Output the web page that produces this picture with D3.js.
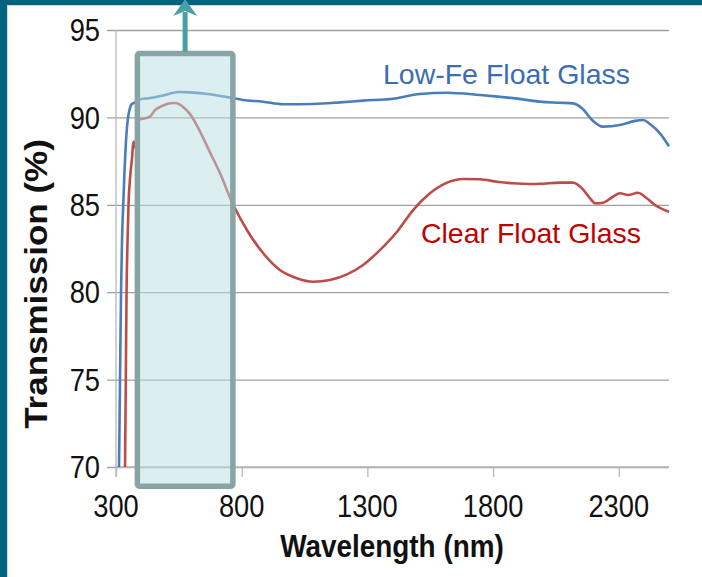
<!DOCTYPE html>
<html>
<head>
<meta charset="utf-8">
<script src="https://cdn.jsdelivr.net/npm/d3@7"></script>
<style>
  html, body { margin: 0; padding: 0; background: #fff; }
  svg { display: block; }
  text { font-family: "Liberation Sans", Arial, sans-serif; }
</style>
</head>
<body>
<svg id="chart" width="702" height="577"></svg>
<script>
// ---- data ----
const lowFeWavelength = [312,316,320,324,329,334,340,348,355,362,384,395,430,463,500,547,594,674,754,805,885,964,1084,1191,1283,1402,1509,1617,1748,1919,1987,2066,2118,2154,2194,2237,2305,2365,2397,2424,2464,2500];
const lowFeTransmission = [70,75,80,83,85.1,87,88.7,90.0,90.5,90.75,90.9,91.03,91.1,91.18,91.3,91.45,91.43,91.32,91.13,91.0,90.9,90.75,90.77,90.86,90.96,91.07,91.34,91.41,91.28,91.03,90.9,90.84,90.8,90.52,89.85,89.47,89.56,89.8,89.85,89.62,89.09,88.35];

const clearWavelength = [336,339,342,346,350,357,364,369,374,381,390,395,415,435,455,483,515,535,567,594,634,674,714,760,821,885,952,1019,1084,1151,1219,1283,1350,1418,1482,1549,1617,1680,1748,1816,1879,1947,1987,2066,2118,2154,2186,2206,2237,2277,2305,2337,2377,2404,2444,2500];
const clearTransmission = [70,75,80,83,85.1,86.7,87.7,88.6,88.3,88.8,89.8,89.89,89.95,90.04,90.42,90.65,90.81,90.82,90.6,90.2,89.2,88.0,86.8,85.2,83.56,82.24,81.27,80.8,80.6,80.7,81.02,81.56,82.41,83.46,84.7,85.66,86.27,86.48,86.46,86.32,86.23,86.19,86.2,86.27,86.27,85.94,85.37,85.09,85.12,85.46,85.66,85.56,85.69,85.46,84.99,84.6];

const seriesNames = ["Low-Fe Float Glass", "Clear Float Glass"];
const xTicks = [300, 800, 1300, 1800, 2300];
const yTicks = [70, 75, 80, 85, 90, 95];
const visibleBand = [385, 765];      // highlighted wavelength range (nm)
const bandTransmission = [68.9, 93.65];

// ---- layout ----
const svg = d3.select("#chart");
const W = 702, H = 577;
const x = d3.scaleLinear().domain([300, 2500]).range([116, 669]);
const y = d3.scaleLinear().domain([70, 95]).range([467, 30]);
const SX = 0.88; // horizontal squeeze of the original lettering

svg.append("rect").attr("width", W).attr("height", H).attr("fill", "#fff");

// gridlines (as y axis ticks extended)
const yAxis = d3.axisLeft(y).tickValues(yTicks).tickSize(-(669 - 107)).tickSizeOuter(0).tickPadding(0).tickFormat("");
svg.append("g").attr("transform", "translate(107,0)").call(yAxis)
  .call(g => g.select(".domain").remove())
  .call(g => g.selectAll(".tick line").attr("stroke", "#a0a0a0").attr("stroke-width", 1.3));

// y axis line
svg.append("line").attr("x1", x(300)).attr("x2", x(300)).attr("y1", y(95)).attr("y2", y(70) + 10)
  .attr("stroke", "#b8b8b8").attr("stroke-width", 1.3);

// x axis
const xAxis = d3.axisBottom(x).tickValues(xTicks).tickSize(10).tickSizeOuter(0).tickFormat("");
svg.append("g").attr("transform", `translate(0,${y(70)})`).call(xAxis)
  .call(g => g.select(".domain").attr("stroke", "#b8b8b8").attr("stroke-width", 1.3).attr("d", `M${x(300)},0H${x(2500)}`))
  .call(g => g.selectAll(".tick line").attr("stroke", "#b8b8b8").attr("stroke-width", 1.3));

// tick labels
svg.append("g").selectAll("text").data(yTicks).join("text")
  .attr("transform", d => `translate(100,${y(d)}) scale(${SX},1)`).attr("dy", "0.36em")
  .attr("text-anchor", "end").attr("font-size", 31).attr("fill", "#111")
  .text(d => d);
svg.append("g").selectAll("text").data(xTicks).join("text")
  .attr("transform", d => `translate(${x(d)},517) scale(${SX},1)`)
  .attr("text-anchor", "middle").attr("font-size", 31).attr("fill", "#111")
  .text(d => d);

// axis titles
svg.append("text").attr("transform", `translate(392,557) scale(0.9,1)`).attr("text-anchor", "middle")
  .attr("font-size", 31).attr("font-weight", "bold").attr("fill", "#111")
  .text("Wavelength (nm)");
svg.append("text").attr("transform", "translate(47,284) rotate(-90) scale(1,0.9)").attr("text-anchor", "middle")
  .attr("font-size", 35).attr("font-weight", "bold").attr("fill", "#111")
  .text("Transmission (%)");

// lines
const line = d3.line().x(d => x(d[0])).y(d => y(d[1])).curve(d3.curveMonotoneX);
const lowFe = lowFeWavelength.map((w, i) => [w, lowFeTransmission[i]]);
const clear = clearWavelength.map((w, i) => [w, clearTransmission[i]]);
svg.append("path").datum(lowFe).attr("d", line).attr("fill", "none")
  .attr("stroke", "#4a7ebb").attr("stroke-width", 2.6).attr("stroke-linejoin", "round");
svg.append("path").datum(clear).attr("d", line).attr("fill", "none")
  .attr("stroke", "#be4b48").attr("stroke-width", 2.6).attr("stroke-linejoin", "round");

// series labels
svg.append("text").attr("x", x(1362)).attr("y", y(91.9)).attr("font-size", 28.5).attr("fill", "#3b6db3").text(seriesNames[0]);
svg.append("text").attr("x", x(1513)).attr("y", y(82.8)).attr("font-size", 28.5).attr("fill", "#c00000").text(seriesNames[1]);

// frame
svg.append("rect").attr("x", 0).attr("y", 0).attr("width", W).attr("height", 5).attr("fill", "#03637f");
svg.append("rect").attr("x", 0).attr("y", 0).attr("width", 7).attr("height", H).attr("fill", "#03637f");
svg.append("line").attr("x1", 7).attr("x2", W).attr("y1", 5.5).attr("y2", 5.5).attr("stroke", "#c9dbe2").attr("stroke-width", 1);
svg.append("line").attr("x1", 7.5).attr("x2", 7.5).attr("y1", 5).attr("y2", H).attr("stroke", "#c9dbe2").attr("stroke-width", 1);

// highlight box
const bx0 = x(visibleBand[0]), bx1 = x(visibleBand[1]);
const by0 = y(bandTransmission[1]), by1 = y(bandTransmission[0]);
svg.append("rect").attr("x", bx0).attr("y", by0).attr("width", bx1 - bx0).attr("height", by1 - by0)
  .attr("rx", 2).attr("fill", "#b8dde2").attr("fill-opacity", 0.5)
  .attr("stroke", "#89a4a4").attr("stroke-width", 5.5);

// arrow
const ax = (bx0 + bx1) / 2;
svg.append("line").attr("x1", ax).attr("x2", ax).attr("y1", by0 - 2).attr("y2", 12)
  .attr("stroke", "#4a9fa5").attr("stroke-width", 5);
svg.append("path").attr("d", `M${ax},-1 L${ax + 12},16 L${ax},11 L${ax - 12},16 Z`).attr("fill", "#4a9fa5");
</script>
</body>
</html>
